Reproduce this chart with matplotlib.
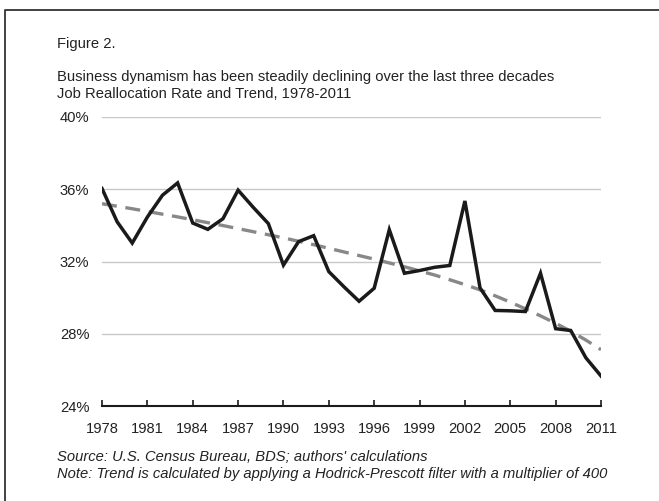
import numpy as np
import matplotlib
matplotlib.use("Agg")
import matplotlib.pyplot as plt
from matplotlib.lines import Line2D

plt.rcParams["font.family"] = ["Liberation Sans", "DejaVu Sans"]

years = list(range(1978, 2012))

# job reallocation rate, %
realloc = [36.04, 34.2, 33.02, 34.46, 35.67, 36.35, 34.13, 33.78, 34.37, 35.95,
           35.0, 34.1, 31.8, 33.1, 33.43, 31.44, 30.6, 29.8, 30.52, 33.76,
           31.35, 31.5, 31.68, 31.78, 35.35, 30.54, 29.29, 29.27, 29.23, 31.35,
           28.28, 28.18, 26.67, 25.66]

# HP trend, %
trend = [35.2, 35.06, 34.92, 34.77, 34.62, 34.47, 34.31, 34.15, 33.99, 33.82,
         33.65, 33.48, 33.31, 33.12, 32.93, 32.73, 32.53, 32.33, 32.13, 31.92,
         31.71, 31.48, 31.25, 30.99, 30.72, 30.43, 30.1, 29.75, 29.38, 28.99,
         28.58, 28.14, 27.65, 27.12]

yticks = [24, 28, 32, 36, 40]
xticks = list(range(1978, 2012, 3))

fs = 10.6

fig = plt.figure(figsize=(6.59, 5.01), dpi=100)
ax = fig.add_axes([102/659, 1 - 406/501, (601 - 102)/659, (406 - 117)/501])

ax.plot(years, trend, color="#888888", lw=2.4, dashes=(4.5, 2.6), zorder=3)
ax.plot(years, realloc, color="#1a1a1a", lw=2.5, solid_joinstyle="miter", zorder=4)

ax.set_xlim(1978, 2011)
ax.set_ylim(24, 40)
ax.set_yticks(yticks)
ax.set_yticklabels([f"{v}%" for v in yticks])
ax.set_xticks(xticks)

for v in yticks[1:]:
    ax.axhline(v, color="#c8c8c8", lw=1.0, zorder=1)

for s in ["top", "right", "left"]:
    ax.spines[s].set_visible(False)
ax.spines["bottom"].set_color("#1a1a1a")
ax.spines["bottom"].set_linewidth(1.5)

ax.tick_params(axis="x", direction="in", length=4, width=1.2, color="#1a1a1a",
               labelsize=fs, labelcolor="#222222", pad=11.5)
ax.tick_params(axis="y", length=0, labelsize=fs, labelcolor="#222222", pad=9)

fig.text(57/659, 1 - 44/501, "Figure 2.", fontsize=fs, color="#222222", va="center")
fig.text(57/659, 1 - 77/501,
         "Business dynamism has been steadily declining over the last three decades",
         fontsize=fs, color="#222222", va="center")
fig.text(57/659, 1 - 94/501, "Job Reallocation Rate and Trend, 1978-2011",
         fontsize=fs, color="#222222", va="center")
fig.text(57/659, 1 - 457/501, "Source: U.S. Census Bureau, BDS; authors' calculations",
         fontsize=fs, style="italic", color="#222222", va="center")
fig.text(57/659, 1 - 474/501,
         "Note: Trend is calculated by applying a Hodrick-Prescott filter with a multiplier of 400",
         fontsize=fs, style="italic", color="#222222", va="center")

# page frame
fig.add_artist(Line2D([5/659, 5/659, 1.0], [0.0, 1 - 10/501, 1 - 10/501],
                      transform=fig.transFigure, color="#333333", lw=1.3))

fig.savefig("out.png", dpi=100)
